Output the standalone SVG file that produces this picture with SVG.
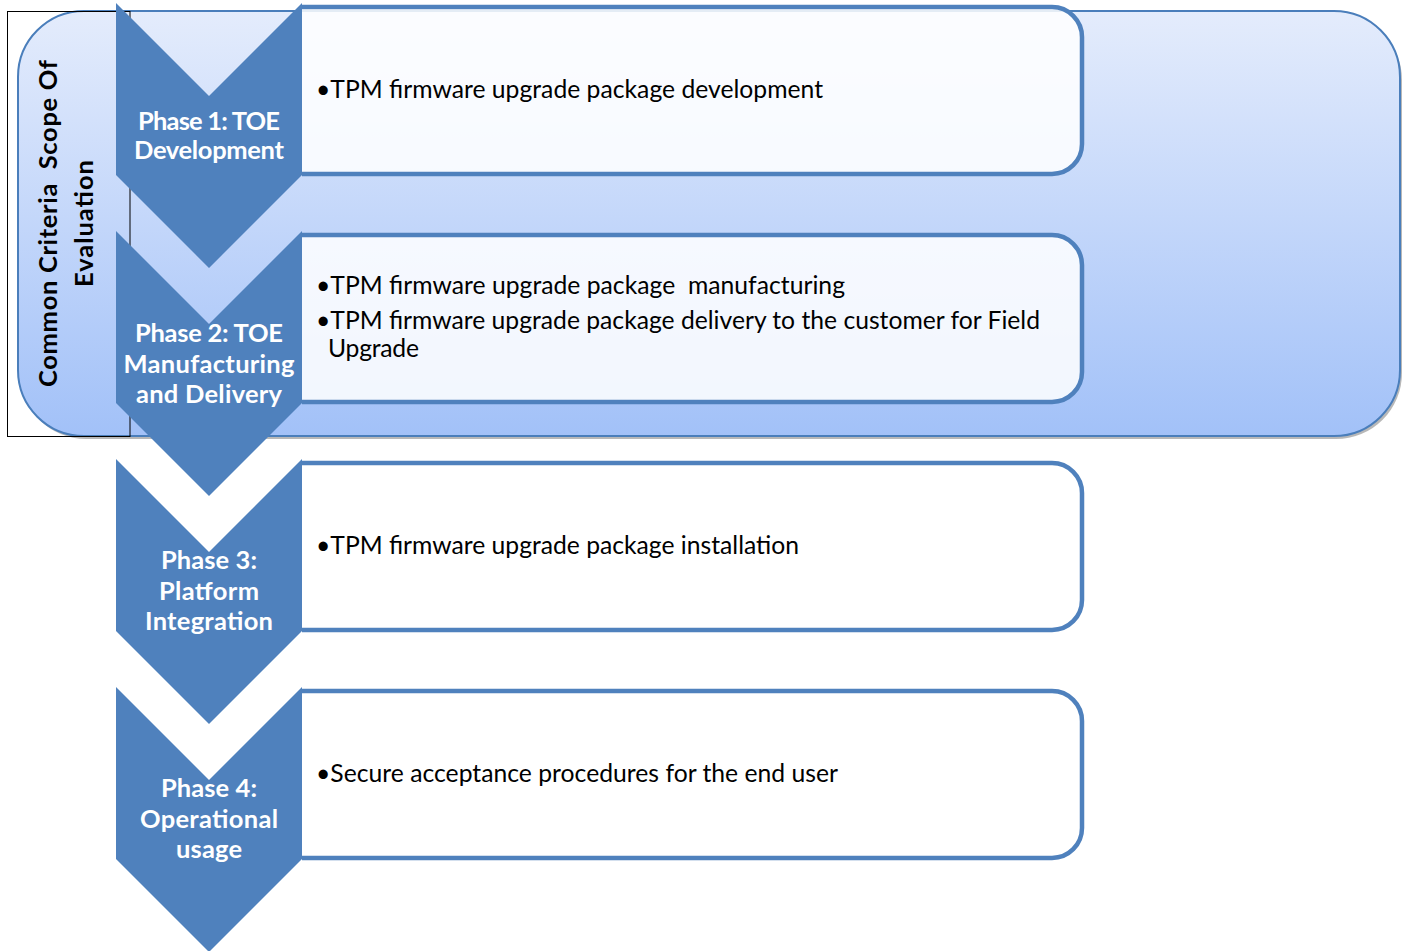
<svg xmlns="http://www.w3.org/2000/svg" width="1402" height="951" viewBox="0 0 1402 951">
<defs>
<linearGradient id="bg" x1="0" y1="0" x2="0" y2="1">
<stop offset="0" stop-color="#E4ECFC"/>
<stop offset="1" stop-color="#A2C1F8"/>
</linearGradient>
<style>
.box{fill:#FFFFFF;fill-opacity:0.85;stroke:#4F81BD;stroke-width:4.5}
.chev{fill:#4F81BD}
.lbl{font-family:Lato,"Open Sans",sans-serif;font-weight:bold;font-size:25.5px;fill:#FFFFFF;text-anchor:middle}
.txt{font-family:Lato,"Open Sans",sans-serif;font-size:24.7px;fill:#000000}
.vt{font-family:Lato,"Open Sans",sans-serif;font-weight:bold;font-size:25.5px;fill:#000000;text-anchor:middle}
</style>
</defs>
<g id="scope">
<rect x="20" y="14" width="1382" height="425" rx="66" fill="#9A9A9A" opacity="0.7"/>
<rect x="18" y="11" width="1382" height="425" rx="66" fill="url(#bg)" stroke="#4A7EBB" stroke-width="2"/>
<rect x="7.5" y="11.5" width="122.5" height="425" fill="none" stroke="#000000" stroke-width="1"/>
<text class="vt" transform="translate(57,223.5) rotate(-90)" xml:space="preserve" textLength="327">Common Criteria  Scope Of</text>
<text class="vt" transform="translate(93,223.5) rotate(-90)" textLength="127">Evaluation</text>
</g>
<g id="connectors"></g>
<g id="box1">
<path class="box" d="M302 7 H1052 A30 30 0 0 1 1082 37 V144 A30 30 0 0 1 1052 174 H302"/>
<text class="txt" x="316" y="98" textLength="507">•TPM firmware upgrade package development</text>
</g>
<g id="box2">
<path class="box" d="M302 235 H1052 A30 30 0 0 1 1082 265 V372 A30 30 0 0 1 1052 402 H302"/>
<text class="txt" x="316" y="294" xml:space="preserve" textLength="529">•TPM firmware upgrade package  manufacturing</text>
<text class="txt" x="316" y="329" textLength="724">•TPM firmware upgrade package delivery to the customer for Field</text>
<text class="txt" x="328" y="357" textLength="91">Upgrade</text>
</g>
<g id="box3">
<path class="box" d="M302 463 H1052 A30 30 0 0 1 1082 493 V600 A30 30 0 0 1 1052 630 H302"/>
<text class="txt" x="316" y="554" textLength="483">•TPM firmware upgrade package installation</text>
</g>
<g id="box4">
<path class="box" d="M302 691 H1052 A30 30 0 0 1 1082 721 V828 A30 30 0 0 1 1052 858 H302"/>
<text class="txt" x="316" y="782" textLength="522">•Secure acceptance procedures for the end user</text>
</g>
<g id="phase1">
<polygon class="chev" points="116,3 209,96 302,3 302,175 209,268 116,175"/>
<text class="lbl" x="209" y="130" textLength="142">Phase 1: TOE</text>
<text class="lbl" x="209" y="159" textLength="150">Development</text>
</g>
<g id="phase2">
<polygon class="chev" points="116,231 209,324 302,231 302,403 209,496 116,403"/>
<text class="lbl" x="209" y="342" textLength="148">Phase 2: TOE</text>
<text class="lbl" x="209" y="373" textLength="171">Manufacturing</text>
<text class="lbl" x="209" y="403" textLength="146">and Delivery</text>
</g>
<g id="phase3">
<polygon class="chev" points="116,459 209,552 302,459 302,631 209,724 116,631"/>
<text class="lbl" x="209" y="569" textLength="96">Phase 3:</text>
<text class="lbl" x="209" y="600" textLength="100">Platform</text>
<text class="lbl" x="209" y="630" textLength="128">Integration</text>
</g>
<g id="phase4">
<polygon class="chev" points="116,687 209,780 302,687 302,859 209,952 116,859"/>
<text class="lbl" x="209" y="797" textLength="96">Phase 4:</text>
<text class="lbl" x="209" y="828" textLength="138">Operational</text>
<text class="lbl" x="209" y="858" textLength="66">usage</text>
</g>
</svg>
